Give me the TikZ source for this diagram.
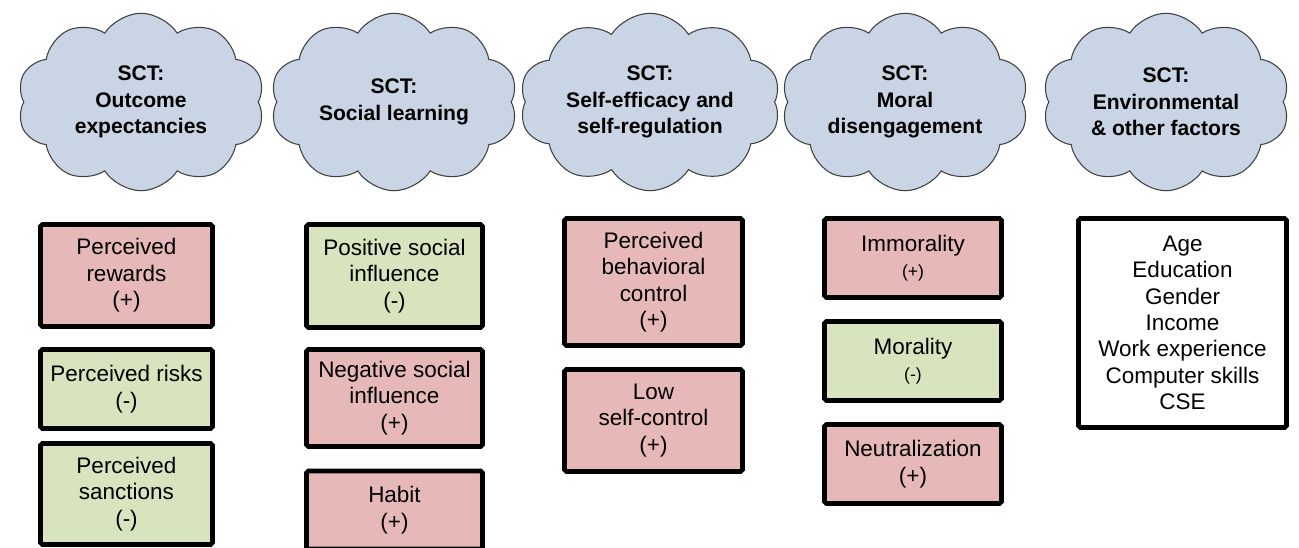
\documentclass[tikz,border=0pt]{standalone}
\usepackage{fontspec}
\setmainfont{Liberation Sans}
\usetikzlibrary{shapes.symbols}
\definecolor{plus}{RGB}{230,185,184}
\definecolor{minus}{RGB}{216,228,189}
\definecolor{sky}{RGB}{201,213,229}
\newcommand{\smallsign}[1]{{\fontsize{10}{12}\selectfont #1}}
\begin{document}
\begin{tikzpicture}[x=0.02cm,y=-0.02cm,
 sct/.style={cloud,cloud puffs=10,cloud puff arc=115,cloud ignores aspect,draw=black!75,line width=0.6pt,fill=sky,
  minimum width=4.95cm,minimum height=3.55cm,align=center,font=\fontsize{12}{15}\selectfont\bfseries},
 fac/.style={draw,line width=2.6pt,rounded corners=1pt,align=center,inner sep=0pt,font=\fontsize{12.8}{15}\selectfont},
 plusbox/.style={fac,fill=plus},
 minusbox/.style={fac,fill=minus}]
 \useasboundingbox (0,0) rectangle (1299,548);
 % 雲
 \node[sct] (c1) at (141,102) {SCT:\\Outcome\\expectancies};
 \node[sct] (c2) at (394,102) {SCT:\\Social learning};
 \node[sct] (c3) at (650,102) {SCT:\\Self-efficacy and\\self-regulation};
 \node[sct] (c4) at (905,102) {SCT:\\Moral\\disengagement};
 \node[sct] (c5) at (1166,102) {SCT:\\Environmental\\\& other factors};
 % 第1列
 \node[plusbox,minimum width=3.44cm,minimum height=2.04cm] (b11) at (126.5,275.5) {Perceived\\rewards\\(+)};
 \node[minusbox,minimum width=3.44cm,minimum height=1.58cm] (b12) at (126.5,389) {Perceived risks\\(-)};
 \node[minusbox,minimum width=3.44cm,minimum height=2.02cm] (b13) at (126.5,494) {Perceived\\sanctions\\(-)};
 % 第2列
 \node[minusbox,minimum width=3.52cm,minimum height=2.06cm] (b21) at (394.5,276) {Positive social\\influence\\(-)};
 \node[plusbox,minimum width=3.52cm,minimum height=1.94cm] (b22) at (394.5,398) {Negative social\\influence\\(+)};
 \node[plusbox,minimum width=3.52cm,minimum height=1.56cm] (b23) at (394.5,510) {Habit\\(+)};
 % 第3列
 \node[plusbox,minimum width=3.56cm,minimum height=2.54cm] (b31) at (653.5,282) {Perceived\\behavioral\\control\\(+)};
 \node[plusbox,minimum width=3.56cm,minimum height=2.04cm] (b32) at (653.5,420.5) {Low\\self-control\\(+)};
 % 第4列
 \node[plusbox,minimum width=3.54cm,minimum height=1.58cm] (b41) at (913,258) {Immorality\\\smallsign{(+)}};
 \node[minusbox,minimum width=3.54cm,minimum height=1.58cm] (b42) at (913,361) {Morality\\\smallsign{(-)}};
 \node[plusbox,minimum width=3.54cm,minimum height=1.58cm] (b43) at (913,464) {Neutralization\\(+)};
 % 第5列
 \node[fac,fill=white,minimum width=4.16cm,minimum height=4.18cm] (b51) at (1182.5,323)
  {Age\\Education\\Gender\\Income\\Work experience\\Computer skills\\CSE};
\end{tikzpicture}
\end{document}
